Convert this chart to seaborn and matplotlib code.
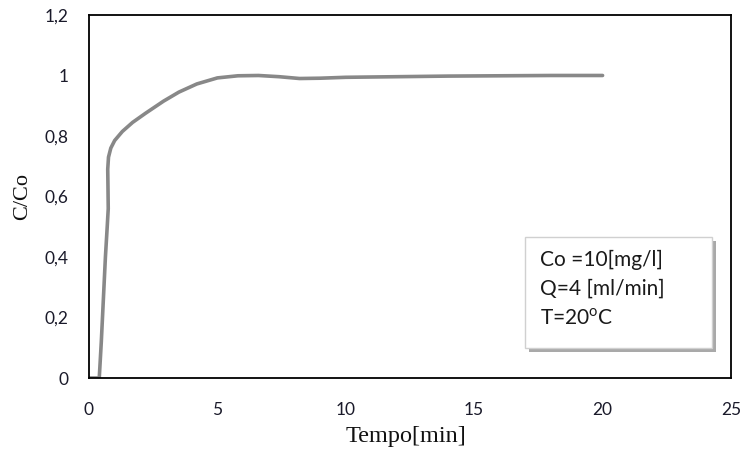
import matplotlib
matplotlib.use("Agg")
import matplotlib.pyplot as plt
import matplotlib.patches as mpatches
import matplotlib.patheffects as pe
from matplotlib.ticker import FuncFormatter
import seaborn as sns
import pandas as pd

# Breakthrough curve: time [min] and relative concentration C/Co
tempo = [0.0, 0.40, 0.48, 0.56, 0.64, 0.71, 0.75, 0.74, 0.73, 0.76, 0.85, 1.00,
         1.30, 1.70, 2.20, 2.90, 3.50, 4.20, 5.00, 5.80, 6.60, 7.40, 8.20,
         9.00, 10.0, 12.0, 14.0, 16.0, 18.0, 20.0]
c_c0 = [0.0, 0.0, 0.12, 0.26, 0.40, 0.50, 0.56, 0.63, 0.69, 0.73, 0.76, 0.785,
        0.815, 0.845, 0.875, 0.915, 0.945, 0.972, 0.992, 0.999, 1.0, 0.996, 0.990,
        0.991, 0.994, 0.996, 0.998, 0.999, 1.0, 1.0]

x_ticks = [0, 5, 10, 15, 20, 25]
y_ticks = [0, 0.2, 0.4, 0.6, 0.8, 1.0, 1.2]
info_lines = ["Co =10[mg/l]", "Q=4 [ml/min]", r"T=20$^{\mathsf{o}}$C"]

df = pd.DataFrame({"Tempo": tempo, "C": c_c0})

sns.set_theme(style="white")
plt.rcParams["font.family"] = ["Lato", "DejaVu Sans"]
plt.rcParams["mathtext.fontset"] = "custom"
plt.rcParams["mathtext.sf"] = "Lato"
plt.rcParams["mathtext.rm"] = "Liberation Serif"

fig = plt.figure(figsize=(7.44, 4.54), dpi=100)
ax = fig.add_axes([0.1196, 0.1674, 0.8629, 0.7996])

sns.lineplot(data=df, x="Tempo", y="C", sort=False, estimator=None,
             color="#888888", linewidth=2.6, ax=ax)

ax.set_xlim(0, 25)
ax.set_ylim(0, 1.2)
ax.set_xticks(x_ticks)
ax.set_yticks(y_ticks)


def comma_fmt(v, pos):
    return f"{v:g}".replace(".", ",")


ax.yaxis.set_major_formatter(FuncFormatter(comma_fmt))
ax.xaxis.set_major_formatter(FuncFormatter(comma_fmt))
ax.tick_params(axis="both", length=0, labelsize=12.5, labelcolor="#1a1a2a")
ax.tick_params(axis="x", pad=17)
ax.tick_params(axis="y", pad=15)

for sp in ax.spines.values():
    sp.set_visible(True)
    sp.set_color("black")
    sp.set_linewidth(1.3)

ax.set_xlabel("Tempo[min]", fontfamily="Liberation Serif", fontsize=17.5,
              color="#111111")
ax.set_ylabel("C/Co", fontfamily="Liberation Serif", fontsize=16,
              color="#111111")
ax.xaxis.set_label_coords(0.494, -0.1625)
ax.xaxis.label.set_va("center")
ax.yaxis.set_label_coords(-0.1035, 0.4986)
ax.yaxis.label.set_va("center")
ax.yaxis.label.set_ha("center")

# Annotation box with drop shadow
box = mpatches.Rectangle((16.98, 0.099), 7.28, 0.367, transform=ax.transData,
                         facecolor="white", edgecolor="#d0d0d0", linewidth=1.0,
                         zorder=5)
box.set_path_effects([pe.SimplePatchShadow(offset=(3, -3), shadow_rgbFace="#8c8c8c",
                                           alpha=0.75), pe.Normal()])
ax.add_patch(box)
ax.text(17.55, 0.294, "\n".join(info_lines), fontsize=15,
        color="#1a1a1a", va="center", ha="left", linespacing=1.55, zorder=6,
        family=["Lato", "DejaVu Sans"])

fig.savefig("out.png", dpi=100)
